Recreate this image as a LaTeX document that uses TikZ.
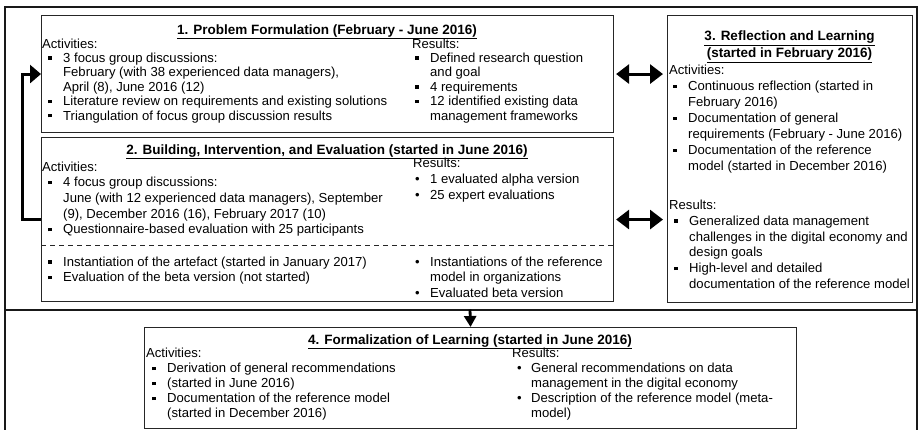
\documentclass[tikz,border=0pt]{standalone}
\usepackage{fontspec}
\setmainfont{Liberation Sans}
\usetikzlibrary{arrows.meta}
\newlength\bo
\newlength\bw
\newcommand\bset[2]{\setlength\bo{#1}\setlength\bw{#2}}
\newcommand\sqb{\makebox[\bw][l]{\hspace*{\bo}\raisebox{2.6pt}{\rule{3.4pt}{3.4pt}}}}
\newcommand\rdb{\makebox[\bw][l]{\hspace*{\bo}\textbullet}}
\newcommand\contl{\hspace*{\bw}}
\newcommand\fs[1]{\fontsize{13.1}{#1}\selectfont}
\newcommand\fst[1]{\fontsize{13.5}{#1}\selectfont\bfseries}
\tikzset{
  frameline/.style={draw=black!90, line width=2pt},
  box/.style={draw=black!85, line width=1.1pt, inner sep=0pt, anchor=north west},
  txt/.style={inner sep=0pt, anchor=north west, align=left, text=black},
  ttl/.style={inner sep=0pt, text=black},
  dbl/.style={line width=3pt, shorten <=2pt, shorten >=4pt,
    {Triangle[length=13pt,width=19pt]}-{Triangle[length=13pt,width=19pt]}},
  fb/.style={line width=3pt, -{Triangle[length=11pt,width=18pt]}},
  downarr/.style={line width=2.8pt, -{Triangle[length=11pt,width=12pt]}}
}
\begin{document}
\begin{tikzpicture}[x=1pt,y=-1pt]
\useasboundingbox (0,0) rectangle (920,430);
% outer frame
\draw[frameline] (5,430) -- (5,7) -- (917,7) -- (917,430);
\coordinate (fL) at (5,309.5);
\coordinate (fR) at (917,309.5);
\draw[frameline] (fL) -- (fR);
% boxes
\node[box, minimum width=572pt, minimum height=117pt] (b1) at (41,15) {};
\node[box, minimum width=572pt, minimum height=164pt] (b2) at (41,137) {};
\node[box, minimum width=245pt, minimum height=287pt] (b3) at (667,15) {};
\node[box, minimum width=652pt, minimum height=101pt] (b4) at (144,327) {};
% box 1
\node[ttl, anchor=base, font=\fst{16}] (t1) at (327,34.4) {\underline{1. Problem Formulation (February - June 2016)}};
\node[txt, font=\fs{14.4}\bset{6pt}{21pt}] (a1) at (42,37.8) {\strut Activities:\\
\sqb 3 focus group discussions:\\
\contl February (with 38 experienced data managers),\\
\contl April (8), June 2016 (12)\\
\sqb Literature review on requirements and existing solutions\\
\sqb Triangulation of focus group discussion results};
\node[txt, font=\fs{14.4}\bset{3pt}{18pt}] (r1) at (412,37.8) {\strut Results:\\
\sqb Defined research question\\
\contl and goal\\
\sqb 4 requirements\\
\sqb 12 identified existing data\\
\contl management frameworks};
% box 2
\node[ttl, anchor=base, font=\fst{16}] (t2) at (327,154.4) {\underline{2. Building, Intervention, and Evaluation (started in June 2016)}};
\node[txt, font=\fs{15.7}\bset{6pt}{21pt}] (a2) at (42,159.9) {\strut Activities:\\
\sqb 4 focus group discussions:\\
\contl June (with 12 experienced data managers), September\\
\contl (9), December 2016 (16), February 2017 (10)\\
\sqb Questionnaire-based evaluation with 25 participants};
\node[txt, font=\fs{16}\bset{2pt}{17pt}] (r2) at (413,156.6) {\strut Results:\\
\rdb 1 evaluated alpha version\\
\rdb 25 expert evaluations};
\coordinate (dL) at (41,246);
\coordinate (dR) at (613,246);
\draw[black!85, line width=1pt, dash pattern=on 5pt off 4pt] (dL) -- (dR);
\node[txt, font=\fs{15.7}\bset{6pt}{21pt}] (a2b) at (42,255) {\strut\sqb Instantiation of the artefact (started in January 2017)\\
\sqb Evaluation of the beta version (not started)};
\node[txt, font=\fs{15.7}\bset{2pt}{17pt}] (r2b) at (413,255) {\strut\rdb Instantiations of the reference\\
\contl model in organizations\\
\rdb Evaluated beta version};
% box 3
\node[ttl, anchor=north, align=center, font=\fst{17}] (t3) at (789.5,28.5) {\strut\underline{3. Reflection and Learning}\\
\underline{(started in February 2016)}};
\node[txt, font=\fs{16}\bset{4pt}{19pt}] (a3) at (669,63.2) {\strut Activities:\\
\sqb Continuous reflection (started in\\
\contl February 2016)\\
\sqb Documentation of general\\
\contl requirements (February - June 2016)\\
\sqb Documentation of the reference\\
\contl model (started in December 2016)};
\node[txt, font=\fs{15.8}\bset{5pt}{20pt}] (r3) at (669,198.3) {\strut Results:\\
\sqb Generalized data management\\
\contl challenges in the digital economy and\\
\contl design goals\\
\sqb High-level and detailed\\
\contl documentation of the reference model};
% box 4
\node[ttl, anchor=base, font=\fst{16}] (t4) at (470,344.4) {\underline{4. Formalization of Learning (started in June 2016)}};
\node[txt, font=\fs{15}\bset{6pt}{21pt}] (a4) at (146,346.9) {\strut Activities:\\
\sqb Derivation of general recommendations\\
\sqb (started in June 2016)\\
\sqb Documentation of the reference model\\
\contl (started in December 2016)};
\node[txt, font=\fs{15}\bset{5pt}{19pt}] (r4) at (512,346.9) {\strut Results:\\
\rdb General recommendations on data\\
\contl management in the digital economy\\
\rdb Description of the reference model (meta-\\
\contl model)};
% connectors
\draw[dbl] (b1.east) -- (b3.west |- b1.east);
\draw[dbl] (b2.east) -- (b3.west |- b2.east);
\draw[fb] (b2.west) -- ++(-19,0) |- (b1.west);
\coordinate (dtop) at (470,309.5);
\draw[downarr] (dtop) -- (b4.north);
\end{tikzpicture}
\end{document}
